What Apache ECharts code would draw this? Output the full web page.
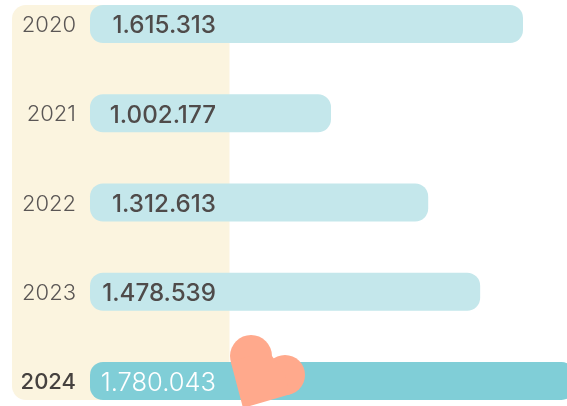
<!DOCTYPE html>
<html><head><meta charset="utf-8">
<style>html,body{margin:0;padding:0;background:#fff}#c{width:567px;height:406px}</style>
<script src="https://cdn.jsdelivr.net/npm/echarts@6/dist/echarts.min.js"></script>
</head><body><div id="c"></div>
<script>
const categories = ['2020','2021','2022','2023','2024'];
const values = [1615313,1002177,1312613,1478539,1780043];
const valueLabels = ['1.615.313','1.002.177','1.312.613','1.478.539','1.780.043'];
const axisMin = 232577, axisMax = 1755857;
const chart = echarts.init(document.getElementById('c'), null, {renderer:'canvas'});
const font = 'Inter';
const heartFill = {fill:'#FFA98C'};
chart.setOption({
  animation:false,
  backgroundColor:'#fff',
  graphic:[
    {type:'rect', z:-10, silent:true,
     shape:{x:12,y:5,width:217.5,height:395,r:[14,0,0,14]},
     style:{fill:'#FBF4DF'}},
    {type:'circle', z:100, silent:true, shape:{cx:251,cy:356,r:21}, style:heartFill},
    {type:'circle', z:100, silent:true, shape:{cx:285,cy:375,r:20}, style:heartFill},
    {type:'polygon', z:100, silent:true,
     shape:{points:[[243,408],[230.7,361.4],[251,356],[272,356],[285,375],[290.2,394.3]]}, style:heartFill}
  ],
  grid:{left:90, right:0, top:24, bottom:25},
  xAxis:{type:'value', min:axisMin, max:axisMax, show:false},
  yAxis:{type:'category', inverse:true, data:categories, boundaryGap:false,
    axisLine:{show:false}, axisTick:{show:false}, splitLine:{show:false},
    axisLabel:{margin:14, align:'right', fontFamily:font, fontSize:22, fontWeight:300, color:'#5a5655',
      padding:[3,0,0,0],
      formatter:(v,i)=> i===4 ? '{b|'+v+'}' : v,
      rich:{b:{fontFamily:font,fontSize:22,fontWeight:500,color:'#45413f'}}}},
  series:[{type:'custom', clip:false,
    encode:{x:0,y:1},
    data:values.map((v,i)=>[v,categories[i]]),
    renderItem:(params,api)=>{
      const i = params.dataIndex;
      const start = api.coord([axisMin,i]);
      const end = api.coord([api.value(0),i]);
      const h = 38;
      return {type:'group',children:[
        {type:'rect',
         shape:{x:start[0],y:start[1]-h/2,width:end[0]-start[0],height:h,r:13},
         style:{fill:i===4?'#80CED7':'#C4E7EB'}},
        {type:'text', x:start[0]+126, y:start[1]+2,
         style:{text:valueLabels[i],align:'right',verticalAlign:'middle',
           fontFamily:font,fontSize:i===4?25.5:24.2,fontWeight:i===4?300:500,
           fill:i===4?'#fff':'#4f4b4a'}}
      ]};
    }}]
});
</script></body></html>
